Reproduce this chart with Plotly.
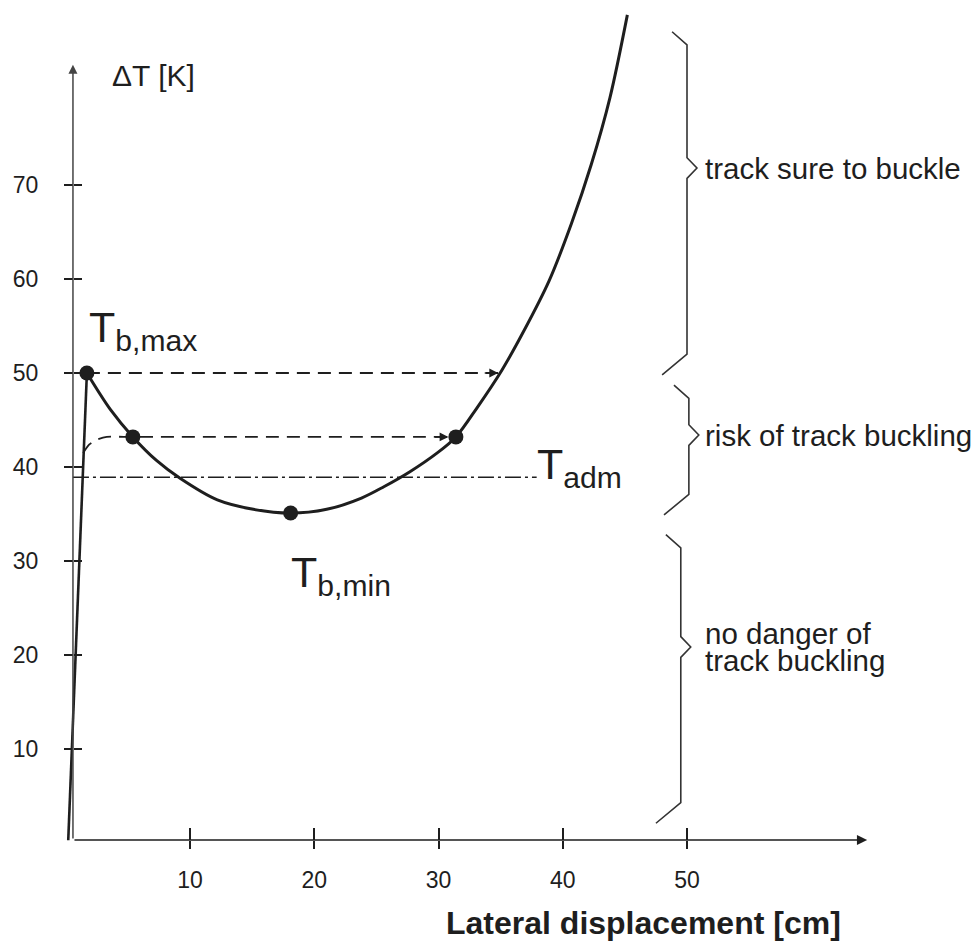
import plotly.graph_objects as go

# ---------------------------------------------------------------------------
# Data: temperature increase vs. lateral displacement of a CWR track
# ---------------------------------------------------------------------------
# initial (practically rigid) branch up to the upper buckling temperature
rise_x = [0.2, 1.7]
rise_y = [0.3, 50.0]

# post-buckling equilibrium branch
curve_x = [1.7, 3.6, 5.4, 7.3, 9.2, 12.2, 15.1, 18.1, 21.0, 23.8, 25.6, 27.7,
           29.9, 31.4, 33.1, 35.1, 36.8, 38.9, 40.7, 42.3, 43.8, 45.2]
curve_y = [50.0, 46.1, 43.2, 40.7, 38.8, 36.5, 35.5, 35.1, 35.5, 36.7, 37.9, 39.5,
           41.5, 43.2, 46.3, 50.3, 54.3, 59.8, 65.9, 72.2, 79.3, 88.1]

# characteristic points
point_x = [1.7, 5.4, 18.1, 31.4]
point_y = [50.0, 43.2, 35.1, 43.2]

# T_b,max jump path (dashed, arrow towards the rising branch)
jump1_x = [1.7, 34.8]
jump1_y = [50.0, 50.0]

# intermediate jump path, starting from the rigid branch
jump2_x = [1.4, 1.9, 2.5, 3.3, 5.4, 30.8]
jump2_y = [41.5, 42.4, 42.9, 43.2, 43.2, 43.2]

# admissible temperature increase
t_adm = 38.9
t_adm_x = [0.58, 37.9]

# axis ticks
x_ticks = [10, 20, 30, 40, 50]
x_tick_labels = ["10", "20", "30", "40", "50"]
y_ticks = [10, 20, 30, 40, 50, 60, 70]
y_tick_labels = ["10", "20", "30", "40", "50", "60", "70"]

# zones marked with braces: (top, bottom, tip) in K
zone_labels = ["track sure to buckle", "risk of track buckling", "no danger of|track buckling"]
zone_top = [86.3, 48.7, 32.8]
zone_bottom = [49.8, 34.9, 2.1]
zone_tip = [71.8, 43.4, 20.85]
zone_x = [50.0, 50.15, 49.5]

# ---------------------------------------------------------------------------
W, H = 977, 948
X_RANGE = [-5.292, 73.34]
Y_RANGE = [-11.17, 89.68]
ORIGIN_X, ORIGIN_Y = 0.58, 0.32      # where the two axes cross
X_END, Y_END = 64.5, 82.8            # arrow tips of the axes
LABEL_X = 51.3                       # left edge of the zone labels

INK = "#1e1e1e"
FONT = "Liberation Sans, Arial, Helvetica, sans-serif"

fig = go.Figure()

fig.add_trace(go.Scatter(x=rise_x, y=rise_y, mode="lines",
                         line=dict(color=INK, width=2.6), hoverinfo="skip"))
fig.add_trace(go.Scatter(x=curve_x, y=curve_y, mode="lines",
                         line=dict(color=INK, width=3.0, shape="spline", smoothing=0.9),
                         hoverinfo="skip"))
fig.add_trace(go.Scatter(x=jump1_x, y=jump1_y, mode="lines",
                         line=dict(color=INK, width=1.8, dash="13px,8px"), hoverinfo="skip"))
fig.add_trace(go.Scatter(x=jump2_x, y=jump2_y, mode="lines",
                         line=dict(color=INK, width=1.8, dash="13px,8px", shape="spline",
                                   smoothing=0.6),
                         hoverinfo="skip"))
fig.add_trace(go.Scatter(x=t_adm_x, y=[t_adm, t_adm], mode="lines",
                         line=dict(color=INK, width=1.5, dash="16px,4px,3px,4px"),
                         hoverinfo="skip"))
fig.add_trace(go.Scatter(x=point_x, y=point_y, mode="markers",
                         marker=dict(color=INK, size=15), hoverinfo="skip"))
# carrier for the inward half of the crossing ticks
fig.add_trace(go.Scatter(x=[None], y=[None], xaxis="x2", yaxis="y2", mode="markers",
                         hoverinfo="skip"))

# arrowheads of the dashed jump paths
for tip_x, tip_y in [(jump1_x[-1], jump1_y[-1]), (jump2_x[-1], jump2_y[-1])]:
    fig.add_annotation(x=tip_x, y=tip_y, ax=tip_x - 1.2, ay=tip_y, xref="x", yref="y",
                       axref="x", ayref="y", text="", showarrow=True, arrowhead=2,
                       arrowsize=1.1, arrowwidth=1.6, arrowcolor=INK, standoff=0)

# axis lines with arrows
fig.add_annotation(x=X_END, y=ORIGIN_Y, ax=ORIGIN_X, ay=ORIGIN_Y, xref="x", yref="y",
                   axref="x", ayref="y", text="", showarrow=True, arrowhead=2,
                   arrowsize=1.2, arrowwidth=1.7, arrowcolor=INK, standoff=0)
fig.add_annotation(x=ORIGIN_X, y=Y_END, ax=ORIGIN_X, ay=ORIGIN_Y, xref="x", yref="y",
                   axref="x", ayref="y", text="", showarrow=True, arrowhead=2,
                   arrowsize=1.2, arrowwidth=1.5, arrowcolor="#444444", standoff=0)

# braces and zone labels
for label, top, bot, tip, bx in zip(zone_labels, zone_top, zone_bottom, zone_tip, zone_x):
    path = (f"M {bx - 1.2},{top} L {bx},{top - 1.4} L {bx},{tip + 1.1} "
            f"L {bx + 0.8},{tip} L {bx},{tip - 1.1} L {bx},{bot + 2.2} L {bx - 2.0},{bot}")
    fig.add_shape(type="path", path=path, xref="x", yref="y",
                  line=dict(color="#333333", width=1.6))
    lines = label.split("|")
    if len(lines) == 1:
        fig.add_annotation(x=LABEL_X, y=tip, text=lines[0], xref="x", yref="y",
                           xanchor="left", yanchor="middle", showarrow=False,
                           font=dict(family=FONT, size=29.5, color=INK))
    else:
        # tightly set two-line label
        for k, line in enumerate(lines):
            fig.add_annotation(x=LABEL_X, y=tip + 1.45 - 2.85 * k, text=line,
                               xref="x", yref="y", xanchor="left", yanchor="middle",
                               showarrow=False,
                               font=dict(family=FONT, size=29.5, color=INK))

# symbol labels
symbols = [("T<sub>b,max</sub>", 1.7, 54.6),
           ("T<sub>b,min</sub>", 18.0, 28.5),
           ("T<sub>adm</sub>", 37.8, 40.0)]
for txt, sx, sy in symbols:
    fig.add_annotation(x=sx, y=sy, text=txt, xref="x", yref="y", xanchor="left",
                       yanchor="middle", showarrow=False,
                       font=dict(family=FONT, size=43, color=INK))

# axis titles
fig.add_annotation(x=7.1, y=81.6, text="ΔT [K]", xref="x", yref="y", showarrow=False,
                   font=dict(family=FONT, size=30, color=INK))
fig.add_annotation(x=46.5, y=-8.5, text="<b>Lateral displacement [cm]</b>", xref="x",
                   yref="y", showarrow=False, font=dict(family=FONT, size=32, color=INK))

axis_common = dict(showgrid=False, zeroline=False, showline=False, tickcolor=INK,
                   tickwidth=1.6)
fig.update_layout(
    width=W, height=H,
    margin=dict(l=0, r=0, t=0, b=0),
    paper_bgcolor="white", plot_bgcolor="white",
    showlegend=False,
    xaxis=dict(range=X_RANGE, domain=[0, 1], anchor="free", position=(H - 840) / H,
               tickvals=x_ticks, ticktext=x_tick_labels, ticks="outside", ticklen=8,
               ticklabelstandoff=11, tickfont=dict(family=FONT, size=23, color=INK),
               **axis_common),
    yaxis=dict(range=Y_RANGE, domain=[0, 1], anchor="free", position=73 / W,
               tickvals=y_ticks, ticktext=y_tick_labels, ticks="outside", ticklen=9,
               ticklabelstandoff=21, tickfont=dict(family=FONT, size=23, color=INK),
               **axis_common),
    xaxis2=dict(range=X_RANGE, domain=[0, 1], overlaying="x", anchor="free",
                position=(H - 840) / H, tickvals=x_ticks, ticks="inside", ticklen=12,
                showticklabels=False, **axis_common),
    yaxis2=dict(range=Y_RANGE, domain=[0, 1], overlaying="y", anchor="free",
                position=73 / W, tickvals=y_ticks, ticks="inside", ticklen=8,
                showticklabels=False, **axis_common),
)

fig.write_html("out.html")
